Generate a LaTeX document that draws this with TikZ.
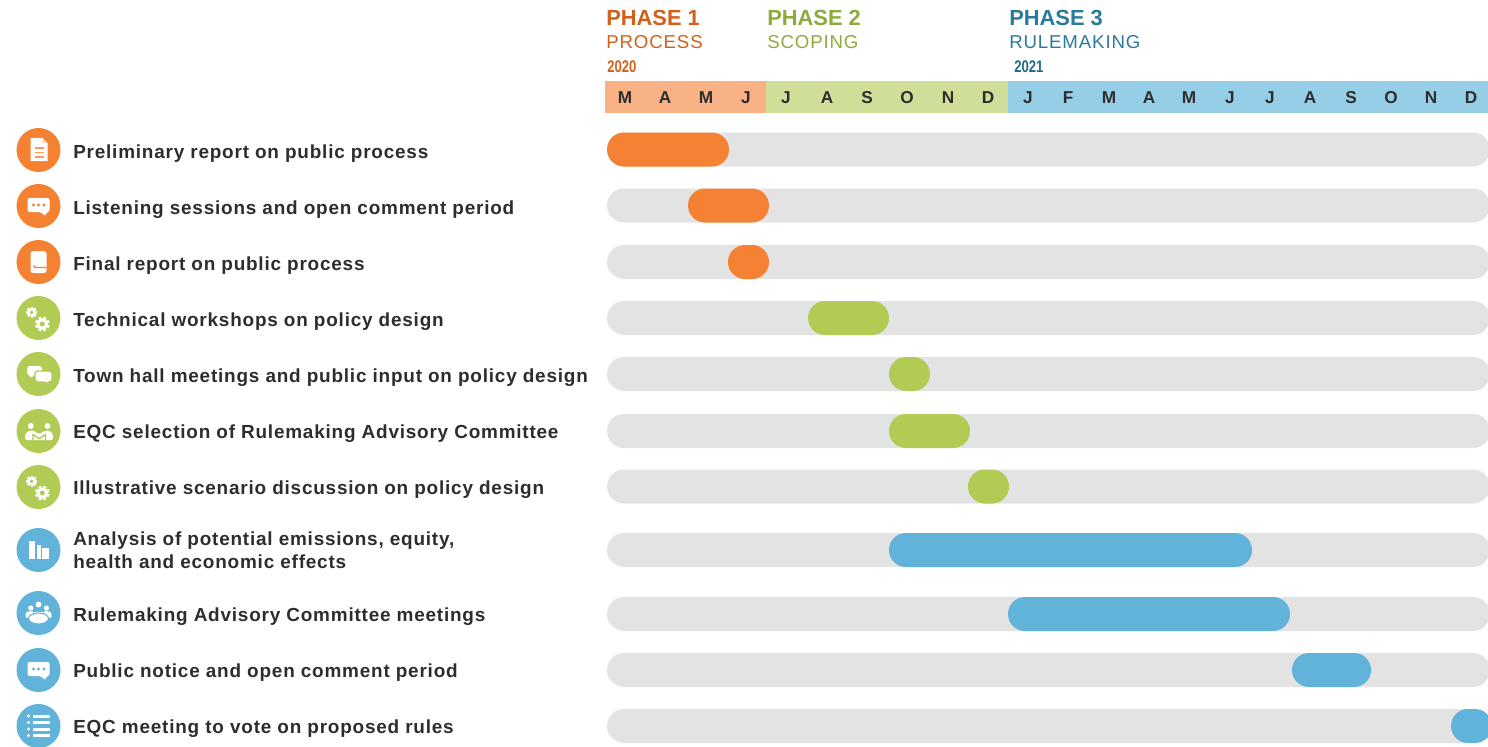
\documentclass[tikz,border=0pt]{standalone}
\usepackage{fontspec}
\setmainfont{Liberation Sans}
\newfontfamily\labf{Liberation Sans}[LetterSpace=4.2]
\newfontfamily\subf{Liberation Sans}[LetterSpace=4.6]
\newfontfamily\yearf{Liberation Sans}[FakeStretch=0.78]
\definecolor{orng}{HTML}{F58233}
\definecolor{grn}{HTML}{B2CB55}
\definecolor{blu}{HTML}{61B3DA}
\definecolor{trk}{HTML}{E3E3E3}
\definecolor{horng}{HTML}{F9B186}
\definecolor{hgrn}{HTML}{CFDF9A}
\definecolor{hblu}{HTML}{96CEE8}
\definecolor{torng}{HTML}{D2601A}
\definecolor{tgrn}{HTML}{8FAA3C}
\definecolor{tblu}{HTML}{2A7A9B}
\definecolor{tyr}{HTML}{1F6A8A}
\definecolor{ink}{HTML}{2D2D2D}
\newcommand{\fs}[2]{\fontsize{#1}{#2}\selectfont}
\newcommand{\taskbar}[4]{\fill[#4,rounded corners=12.7pt] (#1,#3-17) rectangle (#2,#3+17);}
\newcommand{\gears}{%
  \begin{scope}[shift={(-6.8,-5.7)}]
    \foreach \a in {0,45,...,315}{\fill[white,rotate=\a] (-1.2,-5.4) rectangle (1.2,5.4);}
    \fill[white] (0,0) circle (4.2);\fill[grn] (0,0) circle (1.9);
  \end{scope}
  \begin{scope}[shift={(3.8,6)}]
    \foreach \a in {22,67,112,157}{\fill[white,rotate=\a] (-1.5,-7.3) rectangle (1.5,7.3);}
    \fill[white] (0,0) circle (5.5);\fill[grn] (0,0) circle (2.5);
  \end{scope}}
\newcommand{\chat}[1]{%
  \fill[white,rounded corners=1.5pt] (-11,-8) -- (11,-8) -- (11,6) -- (7.5,6) -- (7,10.5) -- (2.5,6) -- (-11,6) -- cycle;
  \foreach \x in {-5,0,5.5}{\fill[#1] (\x,-1) circle (1.7);}}
\tikzset{
  x=0.75pt,y=-0.75pt,
  icon/.style={circle,inner sep=0,minimum size=33pt},
  rowlabel/.style={anchor=base west,inner sep=0,text=ink,font=\labf\bfseries\fs{14.2}{17.25}},
  mon/.style={anchor=base,inner sep=0,text=ink,font=\bfseries\fs{12.9}{15}},
  phase/.style={anchor=base west,inner sep=0,font=\bfseries\fs{16.4}{20}},
  sub/.style={anchor=base west,inner sep=0,font=\subf\fs{14}{17}},
  yr/.style={anchor=base west,inner sep=0,font=\yearf\bfseries\fs{12.6}{15}},
}
\begin{document}
\begin{tikzpicture}
\useasboundingbox (0,0) rectangle (1488,746);
\clip (0,0) rectangle (1488,746);
% header
\fill[horng] (605,81) rectangle (766,113);
\fill[hgrn] (766,81) rectangle (1008,113);
\fill[hblu] (1008,81) rectangle (1488,113);
\node[phase,text=torng] (p1) at (606,25) {PHASE 1};
\node[phase,text=tgrn] (p2) at (767,25) {PHASE 2};
\node[phase,text=tblu] (p3) at (1009,25) {PHASE 3};
\node[sub,text=torng] (s1) at (606,48.5) {PROCESS};
\node[sub,text=tgrn] (s2) at (767,48.5) {SCOPING};
\node[sub,text=tblu] (s3) at (1009,48.5) {RULEMAKING};
\node[yr,text=torng] (y1) at (607,72.5) {2020};
\node[yr,text=tyr] (y2) at (1014,72.5) {2021};
\foreach \x/\m [count=\i] in {625/M,665/A,706/M,746/J,786/J,827/A,867/S,907/O,948/N,988/D,1028/J,1068/F,1109/M,1149/A,1189/M,1230/J,1270/J,1310/A,1351/S,1391/O,1431/N,1471/D}
  \node[mon] (m\i) at (\x,103.5) {\m};
% tracks
\foreach \y in {149.5,205.5,262,318,374,431,486.5,550,614,670,726}
  \fill[trk,rounded corners=12.7pt] (607,\y-17) rectangle (1490,\y+17);
% task bars
\taskbar{607}{729}{149.5}{orng}
\taskbar{688}{769}{205.5}{orng}
\taskbar{728}{769}{262}{orng}
\taskbar{808}{889}{318}{grn}
\taskbar{889}{930}{374}{grn}
\taskbar{889}{970}{431}{grn}
\taskbar{968}{1009}{486.5}{grn}
\taskbar{889}{1252}{550}{blu}
\taskbar{1008}{1290}{614}{blu}
\taskbar{1292}{1371}{670}{blu}
\taskbar{1451}{1492}{726}{blu}
% labels
\node[rowlabel] (t1) at (73,158) {Preliminary report on public process};
\node[rowlabel] (t2) at (73,214) {Listening sessions and open comment period};
\node[rowlabel] (t3) at (73,270) {Final report on public process};
\node[rowlabel] (t4) at (73,326) {Technical workshops on policy design};
\node[rowlabel] (t5) at (73,382) {Town hall meetings and public input on policy design};
\node[rowlabel] (t6) at (73,438) {EQC selection of Rulemaking Advisory Committee};
\node[rowlabel] (t7) at (73,494) {Illustrative scenario discussion on policy design};
\node[rowlabel,align=left,anchor=west] (t8) at (73,550.5) {Analysis of potential emissions, equity,\\health and economic effects};
\node[rowlabel] (t9) at (73,621) {Rulemaking Advisory Committee meetings};
\node[rowlabel] (t10) at (73,677) {Public notice and open comment period};
\node[rowlabel] (t11) at (73,733) {EQC meeting to vote on proposed rules};
% icons
\node[icon,fill=orng] (i1) at (38.5,150) {};
\begin{scope}[shift={(i1.center)}]
  \fill[white] (-8,-12) -- (4,-12) -- (9,-7) -- (9,11) -- (-8,11) -- cycle;
  \fill[orng!35] (4,-12) -- (9,-7) -- (4,-7) -- cycle;
  \foreach \y in {-2,2.5,7}{\draw[orng!80,line width=0.8pt] (-4,\y) -- (5,\y);}
\end{scope}
\node[icon,fill=orng] (i2) at (38.5,206) {};
\begin{scope}[shift={(i2.center)}]\chat{orng}\end{scope}
\node[icon,fill=orng] (i3) at (38.5,262) {};
\begin{scope}[shift={(i3.center)}]
  \fill[white,rounded corners=2pt] (-8,-11) rectangle (8,11);
  \draw[orng,line width=1.1pt] (8.5,5.5) -- (-3,5.5) arc[start angle=90,end angle=200,radius=1.5];
\end{scope}
\node[icon,fill=grn] (i4) at (38.5,318) {};
\begin{scope}[shift={(i4.center)}]\gears\end{scope}
\node[icon,fill=grn] (i5) at (38.5,374) {};
\begin{scope}[shift={(i5.center)}]
  \fill[white,rounded corners=2pt] (-11.5,-8) -- (3.5,-8) -- (3.5,1) -- (-5,1) -- (-8,4.5) -- (-8,1) -- (-11.5,1) -- cycle;
  \fill[white,draw=grn,line width=1pt,rounded corners=2pt] (-3.5,-3) -- (13.5,-3) -- (13.5,8) -- (11.5,8) -- (10.5,11) -- (7,8) -- (-3.5,8) -- cycle;
\end{scope}
\node[icon,fill=grn] (i6) at (38.5,431) {};
\begin{scope}[shift={(i6.center)}]
  \fill[white] (-7.7,-5) circle (3);\fill[white] (9,-5) circle (3);
  \fill[white,rounded corners=1.5pt] (-13.5,9) -- (-13.5,3) -- (-9.5,-0.5) -- (-5,-0.5) -- (0.7,3.5) -- (6.5,-0.5) -- (11,-0.5) -- (14.5,3) -- (14.5,9) -- cycle;
  \draw[grn,line width=1pt] (-5.5,9) -- (-5.5,3.5) -- (0.7,7.5) -- (7,3.5) -- (7,9);
\end{scope}
\node[icon,fill=grn] (i7) at (38.5,487) {};
\begin{scope}[shift={(i7.center)}]\gears\end{scope}
\node[icon,fill=blu] (i8) at (38.5,550) {};
\begin{scope}[shift={(i8.center)}]
  \fill[white] (-10,-9) rectangle (-3.5,8.5);
  \fill[white] (-1.7,-5) rectangle (2.5,8.5);
  \fill[white] (3.8,-2) rectangle (10,8.5);
\end{scope}
\node[icon,fill=blu] (i9) at (38.5,613) {};
\begin{scope}[shift={(i9.center)}]
  \fill[white] (0,-8.5) circle (3);\fill[white] (-7.7,-5) circle (2.6);\fill[white] (8,-5) circle (2.6);
  \fill[white] (-5,-1) arc[start angle=180,end angle=0,x radius=5,y radius=4] -- cycle;
  \fill[white,rounded corners=1pt] (-13,5) -- (-13,0) -- (-10,-2) -- (-5,-2) -- (-6,2) -- (-10,5) -- cycle;
  \fill[white,rounded corners=1pt] (13,5) -- (13,0) -- (10,-2) -- (5,-2) -- (6,2) -- (10,5) -- cycle;
  \fill[white,draw=blu,line width=0.8pt] (0,5.5) ellipse (10 and 5.5);
\end{scope}
\node[icon,fill=blu] (i10) at (38.5,670) {};
\begin{scope}[shift={(i10.center)}]\chat{blu}\end{scope}
\node[icon,fill=blu] (i11) at (38.5,726) {};
\begin{scope}[shift={(i11.center)}]
  \foreach \y in {-10,-3.5,3,9.5}{
    \fill[white] (-10,\y) circle (1.6);
    \fill[white] (-6,\y-1.5) rectangle (11,\y+1.5);}
\end{scope}
\end{tikzpicture}
\end{document}
